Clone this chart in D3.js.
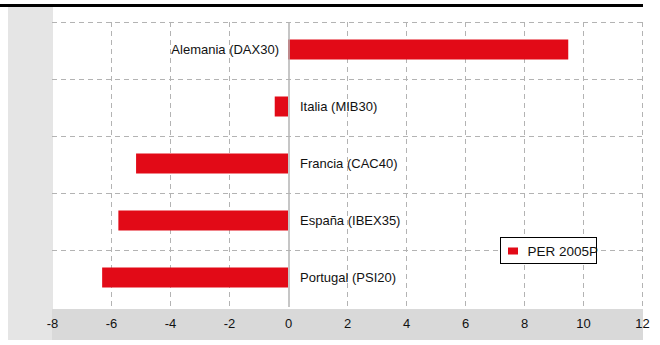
<!DOCTYPE html>
<html>
<head>
<meta charset="utf-8">
<script src="https://cdn.jsdelivr.net/npm/d3@7"></script>
<style>
  body { margin: 0; background: #fff; }
  svg { display: block; font-family: "Liberation Sans", Arial, sans-serif; }
</style>
</head>
<body>
<script>
(function (d3) {
  "use strict";

  /***** Data *****/
  var categories = ["Alemania (DAX30)", "Italia (MIB30)", "Francia (CAC40)", "España (IBEX35)", "Portugal (PSI20)"];
  var values = [9.5, -0.45, -5.15, -5.75, -6.3];
  var xTicks = [-8, -6, -4, -2, 0, 2, 4, 6, 8, 10, 12];
  var seriesName = "PER 2005P";

  /***** Configuration *****/
  var W = 660, H = 345;
  var plot = { left: 52, right: 642, top: 22, bottom: 307 };
  var red = "#e20a17";

  var svg = d3.select("body").append("svg")
    .attr("width", W)
    .attr("height", H);

  /***** Scales *****/
  var x = d3.scaleLinear().domain([-8, 12]).range([plot.left, plot.right]);
  var y = d3.scaleBand().domain(categories).range([plot.top, plot.bottom]);

  // backgrounds
  svg.append("rect").attr("x", 8).attr("y", 7).attr("width", plot.left - 7).attr("height", 333)
    .attr("fill", "#e5e5e5");
  svg.append("rect").attr("x", plot.left).attr("y", 309).attr("width", plot.right - plot.left + 1).attr("height", 31)
    .attr("fill", "#d9d9d9");
  svg.append("rect").attr("x", 0).attr("y", 4).attr("width", 643).attr("height", 3).attr("fill", "#000");

  /***** Grid *****/
  var grid = svg.append("g").attr("stroke", "#b3b3b3").attr("stroke-dasharray", "5,4").attr("fill", "none");
  grid.selectAll("line.v")
    .data(xTicks.filter(function (t) { return t !== 0 && t !== -8; }))
    .enter().append("line")
    .attr("x1", function (d) { return Math.round(x(d)) + 0.5; })
    .attr("x2", function (d) { return Math.round(x(d)) + 0.5; })
    .attr("y1", plot.top).attr("y2", plot.bottom);
  grid.selectAll("line.h")
    .data(categories)
    .enter().append("line")
    .attr("x1", plot.left).attr("x2", plot.right)
    .attr("y1", function (d) { return Math.round(y(d)) + 0.5; })
    .attr("y2", function (d) { return Math.round(y(d)) + 0.5; });

  /***** Bars *****/
  var barH = 20;
  svg.selectAll("rect.bar")
    .data(categories)
    .enter().append("rect")
    .attr("class", "bar")
    .attr("x", function (d, i) { return x(Math.min(0, values[i])); })
    .attr("width", function (d, i) { return Math.abs(x(values[i]) - x(0)); })
    .attr("y", function (d) { return y(d) + y.bandwidth() / 2 - barH / 2 - 1; })
    .attr("height", barH)
    .attr("fill", red);

  // zero line
  svg.append("line")
    .attr("x1", x(0) + 1).attr("x2", x(0) + 1)
    .attr("y1", plot.top).attr("y2", plot.bottom)
    .attr("stroke", "#b3b3b3").attr("stroke-width", 1.5);

  /***** Category labels *****/
  svg.selectAll("text.cat")
    .data(categories)
    .enter().append("text")
    .attr("class", "cat")
    .attr("x", function (d, i) { return values[i] >= 0 ? x(0) - 9 : x(0) + 12; })
    .attr("y", function (d) { return y(d) + y.bandwidth() / 2 - 1; })
    .attr("dy", "0.35em")
    .attr("text-anchor", function (d, i) { return values[i] >= 0 ? "end" : "start"; })
    .attr("font-size", 13)
    .attr("fill", "#111")
    .text(function (d) { return d; });

  /***** X axis *****/
  var xAxis = d3.axisBottom(x).tickValues(xTicks).tickSize(0).tickPadding(0)
    .tickFormat(d3.format("d"));
  var gx = svg.append("g").attr("transform", "translate(0,319)").call(xAxis);
  gx.select(".domain").remove();
  gx.selectAll("text").attr("font-size", 13).attr("fill", "#111")
    .attr("font-family", "'Liberation Sans', Arial, sans-serif")
    .text(function (d) { return d < 0 ? "-" + Math.abs(d) : d; });

  /***** Legend *****/
  var lg = svg.append("g").attr("transform", "translate(500.5,237.5)");
  lg.append("rect").attr("width", 96).attr("height", 26)
    .attr("fill", "#fff").attr("stroke", "#000").attr("stroke-width", 1);
  lg.append("rect").attr("x", 7.5).attr("y", 10).attr("width", 10).attr("height", 7).attr("fill", red);
  lg.append("text").attr("x", 27).attr("y", 18).attr("font-size", 13.5).attr("fill", "#111")
    .text(seriesName);

})(d3);
</script>
</body>
</html>
